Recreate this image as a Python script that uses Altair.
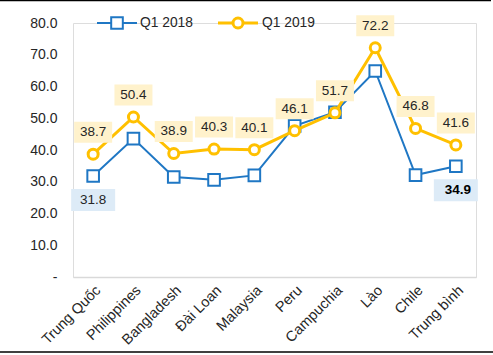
import altair as alt
import pandas as pd

categories = ["Trung Quốc", "Philippines", "Bangladesh", "Đài Loan", "Malaysia",
              "Peru", "Campuchia", "Lào", "Chile", "Trung bình"]
q1_2018 = [31.8, 43.6, 31.5, 30.6, 32.0, 47.6, 51.9, 64.9, 32.1, 34.9]
q1_2019 = [38.7, 50.4, 38.9, 40.3, 40.1, 46.1, 51.7, 72.2, 46.8, 41.6]
series = ["Q1 2018", "Q1 2019"]
labelled_2018 = ["Trung Quốc"]
labelled_2018_bold = ["Trung bình"]
y_ticks = [0, 10, 20, 30, 40, 50, 60, 70, 80]

BLUE = "#1F77C4"
GOLD = "#FFC000"
FONT = "Liberation Sans"
TXT = "#262626"

df18 = pd.DataFrame({"cat": categories, "value": q1_2018})
df19 = pd.DataFrame({"cat": categories, "value": q1_2019})
one = pd.DataFrame({"a": [0]})

xenc = alt.X("cat:N", sort=categories, scale=alt.Scale(type="point", padding=0.5),
             axis=alt.Axis(labelAngle=-45, domainColor="#D9D9D9", domainWidth=1.5,
                           ticks=False, grid=False, labelFontSize=14.5, labelFont=FONT,
                           labelColor=TXT, labelPadding=6),
             title=None)
yenc = alt.Y("value:Q", scale=alt.Scale(domain=[0, 80]),
             axis=alt.Axis(values=y_ticks, domain=False, ticks=False, grid=False,
                           labelExpr="datum.value == 0 ? '-' : format(datum.value, '.1f')",
                           labelFontSize=14, labelFont=FONT, labelColor=TXT,
                           labelPadding=16),
             title=None)

base18 = alt.Chart(df18).encode(x=xenc, y=yenc)
base19 = alt.Chart(df19).encode(x=xenc, y=yenc)

line18 = base18.mark_line(color=BLUE, strokeWidth=2)
pts18 = base18.mark_point(shape="square", size=135, filled=True, fill="white",
                          stroke=BLUE, strokeWidth=2, opacity=1)
line19 = base19.mark_line(color=GOLD, strokeWidth=3)
pts19 = base19.mark_point(shape="circle", size=100, filled=True, fill="white",
                          stroke=GOLD, strokeWidth=3, opacity=1)

box19 = base19.mark_rect(width=38, height=21, yOffset=-22, color="#FFF2CC")
txt19 = base19.mark_text(dy=-22, fontSize=13.5, font=FONT, color=TXT).encode(
    text=alt.Text("value:Q", format=".1f"))

sel18 = base18.transform_filter(alt.FieldOneOfPredicate(field="cat", oneOf=labelled_2018 + labelled_2018_bold))
box18 = sel18.mark_rect(width=44, height=22, yOffset=24, color="#DDEBF7")
txt18 = base18.transform_filter(alt.FieldOneOfPredicate(field="cat", oneOf=labelled_2018)).mark_text(
    dy=24, fontSize=13.5, font=FONT, color=TXT).encode(text=alt.Text("value:Q", format=".1f"))
txt18b = base18.transform_filter(alt.FieldOneOfPredicate(field="cat", oneOf=labelled_2018_bold)).mark_text(
    dy=24, dx=2, fontSize=13.5, font=FONT, color="#000000", fontWeight="bold").encode(
    text=alt.Text("value:Q", format=".1f"))

# legend
leg_line18 = alt.Chart(one).mark_rule(color=BLUE, strokeWidth=2).encode(
    x=alt.value(24), x2=alt.value(64), y=alt.value(0))
leg_pt18 = alt.Chart(one).mark_point(shape="square", size=135, filled=True, fill="white",
                                     stroke=BLUE, strokeWidth=2, opacity=1).encode(
    x=alt.value(44), y=alt.value(0))
leg_txt18 = alt.Chart(one).mark_text(align="left", baseline="middle", fontSize=13.8,
                                     font=FONT, color=TXT).encode(
    x=alt.value(67), y=alt.value(0), text=alt.value(series[0]))
leg_line19 = alt.Chart(one).mark_rule(color=GOLD, strokeWidth=3).encode(
    x=alt.value(145), x2=alt.value(185), y=alt.value(0))
leg_pt19 = alt.Chart(one).mark_point(shape="circle", size=100, filled=True, fill="white",
                                     stroke=GOLD, strokeWidth=3, opacity=1).encode(
    x=alt.value(165), y=alt.value(0))
leg_txt19 = alt.Chart(one).mark_text(align="left", baseline="middle", fontSize=13.8,
                                     font=FONT, color=TXT).encode(
    x=alt.value(189), y=alt.value(0), text=alt.value(series[1]))

# frame lines
top_rule = alt.Chart(one).mark_rule(color="black", strokeWidth=1.5).encode(
    x=alt.value(-73), x2=alt.value(418), y=alt.value(-22.5))
bot_rule = alt.Chart(one).mark_rule(color="black", strokeWidth=1.5).encode(
    x=alt.value(-73), x2=alt.value(420), y=alt.value(329))

chart = alt.layer(
    line18, pts18, line19, pts19,
    box19, txt19, box18, txt18, txt18b,
    leg_line18, leg_pt18, leg_txt18, leg_line19, leg_pt19, leg_txt19,
    top_rule, bot_rule,
).properties(
    width=403, height=254,
    padding={"left": 73, "top": 23, "right": 17, "bottom": 78},
    autosize="none",
).configure_view(stroke=None).configure(background="white")

chart.save("out.html", embed_options={"renderer": "svg", "actions": False})
